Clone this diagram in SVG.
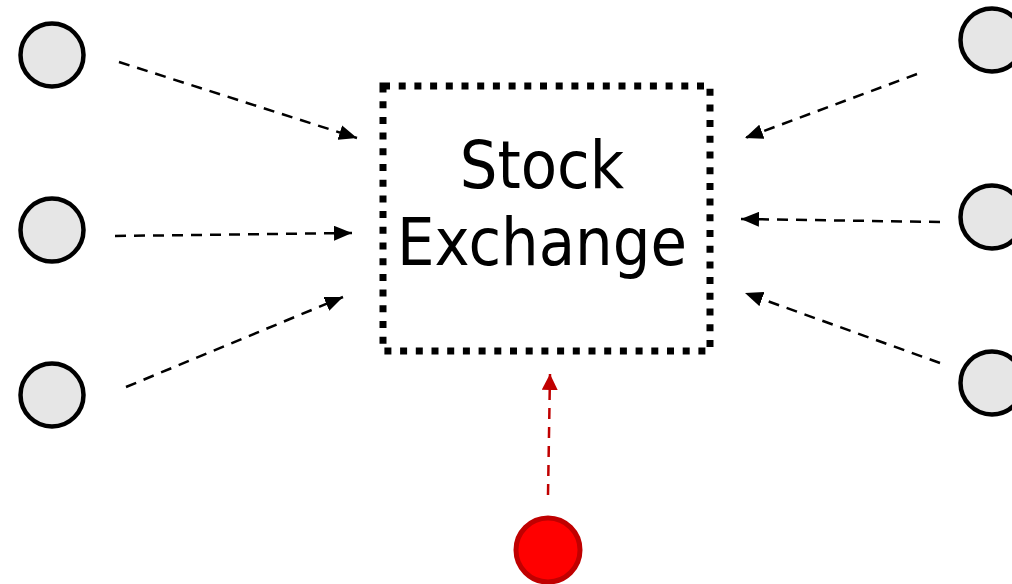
<svg xmlns="http://www.w3.org/2000/svg" width="1012" height="584" viewBox="0 0 1012 584">
  <style>
    .peer { fill: #e6e6e6; stroke: #000; stroke-width: 4.5; }
    .conn { fill: none; stroke: #000; stroke-width: 2.5; stroke-dasharray: 11 8; }
    .conn-red { fill: none; stroke: #c00000; stroke-width: 2.5; stroke-dasharray: 11 8; }
    .label { font-family: "DejaVu Sans Condensed", "DejaVu Sans", sans-serif; font-stretch: condensed; font-size: 66px; fill: #000; text-anchor: middle; }
  </style>
  <defs>
    <marker id="arrow" markerUnits="userSpaceOnUse" markerWidth="18" markerHeight="15" refX="18" refY="7.5" orient="auto">
      <path d="M0,0 L18,7.5 L0,15 z" fill="#000"/>
    </marker>
    <marker id="arrow-red" markerUnits="userSpaceOnUse" markerWidth="16" markerHeight="16" refX="16" refY="8" orient="auto">
      <path d="M0,0 L16,8 L0,16 z" fill="#c00000"/>
    </marker>
  </defs>
  <rect width="1012" height="584" fill="#fff"/>

  <g id="connectors">
    <line class="conn" x1="119" y1="62" x2="357" y2="138" marker-end="url(#arrow)"/>
    <line class="conn" x1="115" y1="236" x2="352" y2="233" marker-end="url(#arrow)"/>
    <line class="conn" x1="126" y1="387" x2="343" y2="297" marker-end="url(#arrow)"/>
    <line class="conn" x1="917" y1="74" x2="745" y2="138" marker-end="url(#arrow)"/>
    <line class="conn" x1="940" y1="222" x2="741" y2="219" marker-end="url(#arrow)"/>
    <line class="conn" x1="940" y1="363" x2="745" y2="293" marker-end="url(#arrow)"/>
    <line class="conn-red" x1="548" y1="495" x2="550" y2="374" marker-end="url(#arrow-red)"/>
  </g>

  <g id="stock-exchange">
    <rect x="383" y="86" width="327" height="265" fill="none" stroke="#000" stroke-width="7" stroke-dasharray="7 8.7"/>
    <text class="label" x="542" y="188">Stock</text>
    <text class="label" x="542" y="265">Exchange</text>
  </g>

  <g id="peer-left-1"><circle class="peer" cx="52" cy="55" r="31.5"/></g>
  <g id="peer-left-2"><circle class="peer" cx="52" cy="230" r="31.5"/></g>
  <g id="peer-left-3"><circle class="peer" cx="52" cy="395" r="31.5"/></g>
  <g id="peer-right-1"><circle class="peer" cx="992" cy="40" r="31.5"/></g>
  <g id="peer-right-2"><circle class="peer" cx="992" cy="217" r="31.5"/></g>
  <g id="peer-right-3"><circle class="peer" cx="992" cy="383" r="31.5"/></g>
  <g id="red-node"><circle cx="548" cy="550" r="32" fill="#ff0000" stroke="#c00000" stroke-width="5"/></g>
</svg>
